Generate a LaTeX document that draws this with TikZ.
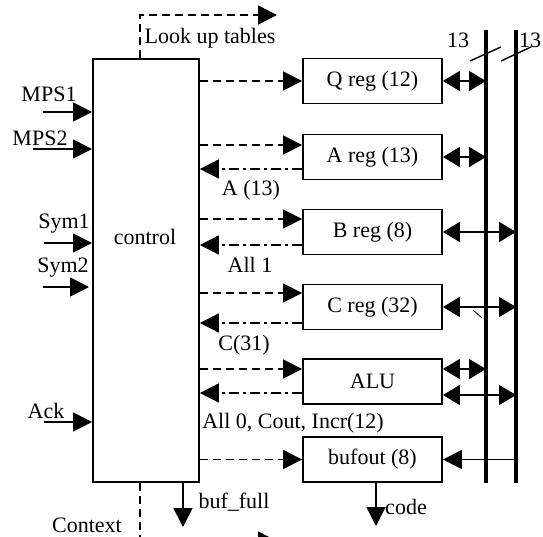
\documentclass[tikz,border=0pt]{standalone}
\usepackage{fontspec}
\setmainfont{Liberation Serif}
\usetikzlibrary{arrows.meta}
\begin{document}
\begin{tikzpicture}[x=1pt,y=-1pt,
  every node/.style={font=\fontsize{22}{26}\selectfont, inner sep=0pt},
  reg/.style={draw, line width=1.8pt, minimum width=139pt, minimum height=45pt},
  ctrlbox/.style={draw, line width=1.8pt, minimum width=106pt, minimum height=423pt, anchor=north west},
  sol/.style={line width=1.6pt},
  dsh/.style={line width=1.4pt, dash pattern=on 8pt off 5pt},
  dd/.style={line width=1.4pt, dash pattern=on 10pt off 4pt on 3pt off 4pt},
  tipR/.style={-{Triangle[length=19pt,width=19pt]}},
  dbl/.style={line width=1.6pt, {Triangle[length=17pt,width=20pt]}-{Triangle[length=17pt,width=20pt]}},
  bus/.style={line width=3.4pt},
  slash/.style={line width=1.4pt}]
\useasboundingbox (0,0) rectangle (543,537);
\clip (0,0) rectangle (543,537);

% control block
\node[ctrlbox] (ctrl) at (92,58) {};
\node (ctrllbl) at (145,237) {control};

% registers
\node[reg] (q) at (372.5,81) {Q reg (12)};
\node[reg] (a) at (372.5,157) {A reg (13)};
\node[reg] (b) at (372.5,232) {B reg (8)};
\node[reg] (c) at (372.5,307) {C reg (32)};
\node[reg] (alu) at (372.5,381.5) {ALU};
\node[reg] (bo) at (372.5,459.5) {bufout (8)};

% buses
\coordinate (b1t) at (486,30); \coordinate (b1b) at (486,483);
\coordinate (b2t) at (516,30); \coordinate (b2b) at (516,483);
\draw[bus] (b1t) -- (b1b);
\draw[bus] (b2t) -- (b2b);
\draw[slash] (470,61) -- (501,47);
\draw[slash] (501,61) -- (531,47);
\node (n13a) at (458,40) {13};
\node (n13b) at (530,40) {13};
\draw[line width=0.8pt] (473,310) -- (482,318);

% control -> registers
\coordinate (af) at ([yshift=12pt]a.west);
\coordinate (ab) at ([yshift=-12pt]a.west);
\coordinate (bf) at ([yshift=13pt]b.west);
\coordinate (bb) at ([yshift=-13pt]b.west);
\coordinate (cf) at ([yshift=14pt]c.west);
\coordinate (cb) at ([yshift=-16pt]c.west);
\coordinate (alf) at ([yshift=12.5pt]alu.west);
\coordinate (alb) at ([yshift=-11.5pt]alu.west);
\draw[dsh,tipR] (ctrl.east |- q.west) -- (q.west);
\draw[dsh,tipR] (ctrl.east |- af) -- (af);
\draw[dd,tipR] (ab) -- (ctrl.east |- ab);
\draw[dsh,tipR] (ctrl.east |- bf) -- (bf);
\draw[dd,tipR] (bb) -- (ctrl.east |- bb);
\draw[dsh,tipR] (ctrl.east |- cf) -- (cf);
\draw[dd,tipR] (cb) -- (ctrl.east |- cb);
\draw[dsh,tipR] (ctrl.east |- alf) -- (alf);
\draw[dd,tipR] (alb) -- (ctrl.east |- alb);
\draw[dsh,tipR] (ctrl.east |- bo.west) -- (bo.west);

\node (lA) at (251,190) {A (13)};
\node (lB) at (250,265) {All 1};
\node (lC) at (244,345) {C(31)};
\node (lALU) at (293,423) {All 0, Cout, Incr(12)};

% registers <-> buses
\draw[dbl] (q.east) -- (q.east -| b1t);
\draw[dbl] (a.east) -- (a.east -| b1t);
\draw[dbl] (b.east) -- (b.east -| b2t);
\draw[dbl] (c.east) -- (c.east -| b2t);
\coordinate (au) at ([yshift=12.5pt]alu.east);
\coordinate (ad) at ([yshift=-13.5pt]alu.east);
\draw[dbl] (au) -- (au -| b1t);
\draw[dbl] (ad) -- (ad -| b2t);
\draw[sol,tipR] (bo.east -| b2t) -- (bo.east);

% inputs
\coordinate (m1) at (43,112);
\coordinate (m2) at (33,149);
\coordinate (s1) at (44,243);
\coordinate (s2) at (43,287);
\coordinate (s2e) at (89,287);
\coordinate (ack) at (44,422);
\draw[sol,tipR] (m1) -- (m1 -| ctrl.west);
\draw[sol,tipR] (m2) -- (m2 -| ctrl.west);
\draw[sol,tipR] (s1) -- (s1 -| ctrl.west);
\draw[sol,tipR] (s2) -- (s2e);
\draw[sol,tipR] (ack) -- (ack -| ctrl.west);
\node (lm1) at (49,94) {MPS1};
\node (lm2) at (40,138) {MPS2};
\node (ls1) at (64,224) {Sym1};
\node (ls2) at (63,268) {Sym2};
\node (lack) at (46,411) {Ack};

% look up tables
\coordinate (lut) at (140,15);
\coordinate (lute) at (277,15);
\draw[dsh,tipR] (ctrl.north -| lut) -- (lut) -- (lute);
\node (llut) at (210,38) {Look up tables};

% context
\coordinate (ctx) at (140,541);
\coordinate (ctxe) at (277,541);
\draw[dsh,tipR] (ctrl.south -| ctx) -- (ctx) -- (ctxe);
\node (lctx) at (87,525) {Context};

% buf_full
\coordinate (bfe) at (183,527);
\draw[sol,tipR] (ctrl.south -| bfe) -- (bfe);
\node (lbf) at (234,502) {buf\_full};

% code
\coordinate (cde) at (376,526);
\draw[sol,tipR] (bo.south -| cde) -- (cde);
\node (lcode) at (406,507) {code};
\end{tikzpicture}
\end{document}
